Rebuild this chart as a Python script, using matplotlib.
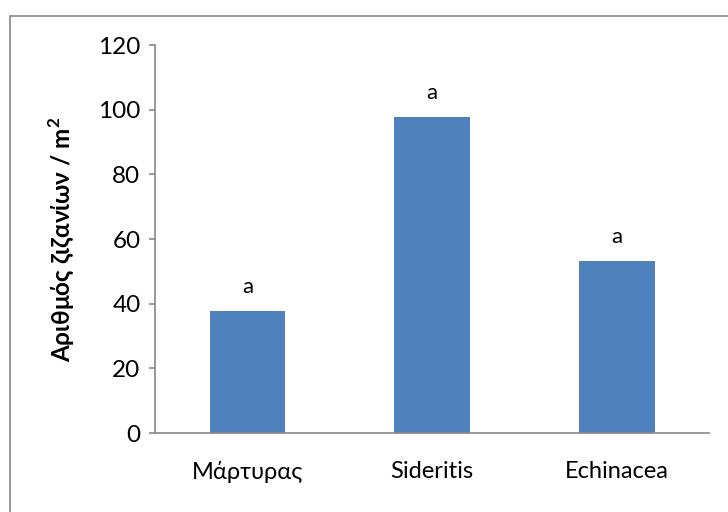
import matplotlib
matplotlib.use('Agg')
import matplotlib.pyplot as plt
from matplotlib.patches import Rectangle

# DATA
categories = ['Μάρτυρας', 'Sideritis', 'Echinacea']
weeds_per_m2 = [37.7, 97.7, 53.2]
letters = ['a', 'a', 'a']
y_ticks = [0, 20, 40, 60, 80, 100, 120]

plt.rcParams['font.family'] = ['Lato', 'DejaVu Sans']

fig = plt.figure(figsize=(7.28, 5.12), dpi=100)
ax = fig.add_axes([0.213, 0.154, 0.761, 0.758])

x = range(len(categories))
ax.bar(x, weeds_per_m2, width=0.41, color='#4F81BD')
for xi, v, lab in zip(x, weeds_per_m2, letters):
    ax.text(xi, v + 4.5, lab, ha='center', va='bottom', fontsize=16)

ax.set_xlim(-0.5, len(categories) - 0.5)
ax.set_ylim(0, 120)
ax.set_yticks(y_ticks)
ax.set_xticks(list(x))
ax.set_xticklabels(categories, fontsize=17)
ax.tick_params(axis='y', labelsize=17.5, length=4.5, color='#888888', width=1.2, pad=6)
ax.tick_params(axis='x', length=0, pad=20)
ax.set_ylabel('Αριθμός ζιζανίων / m$^\\mathregular{2}$', fontsize=17.5, fontweight='bold', labelpad=16)

for s in ['top', 'right']:
    ax.spines[s].set_visible(False)
for s in ['left', 'bottom']:
    ax.spines[s].set_color('#888888')
    ax.spines[s].set_linewidth(1.2)

# outer chart border (only top/left visible in the crop)
fig.patches.append(Rectangle((10 / 728, -0.1), 1.2, (512 - 16) / 512 + 0.1,
                             transform=fig.transFigure, fill=False,
                             edgecolor='#888888', linewidth=1.2))

fig.savefig('out.png', dpi=100)
